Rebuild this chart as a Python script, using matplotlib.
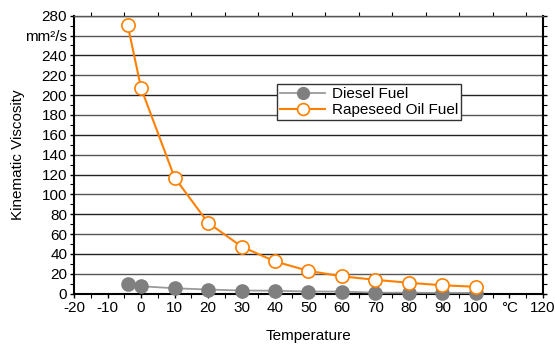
import matplotlib
matplotlib.use("Agg")
import matplotlib.pyplot as plt
from matplotlib.ticker import MultipleLocator

plt.rcParams['font.family'] = ['Liberation Sans', 'DejaVu Sans']

temps = [-4, 0, 10, 20, 30, 40, 50, 60, 70, 80, 90, 100]
diesel = [9.8, 7.5, 5.5, 4.2, 3.2, 3.0, 2.2, 2.2, 1.0, 1.0, 0.8, 0.8]
rapeseed = [270.5, 207, 117, 71.5, 47.5, 32.5, 23, 17.5, 14, 11, 8.5, 7]

xticks = [-20, -10, 0, 10, 20, 30, 40, 50, 60, 70, 80, 90, 100, 110, 120]
xlabels = ['-20', '-10', '0', '10', '20', '30', '40', '50', '60', '70', '80', '90', '100', '°C', '120']
yticks = list(range(0, 281, 20))
ylabels = [str(v) for v in yticks]
ylabels[yticks.index(260)] = 'mm²/s'

fig = plt.figure(figsize=(5.55, 3.52), dpi=100)
ax = fig.add_axes([0.1336, 0.1656, 0.8444, 0.7898])

for v in yticks[1:]:
    ax.axhline(v, color='#555555' if v % 40 else '#222222', lw=1.0, zorder=1)

ax.plot(temps, diesel, color='#9a9a9a', lw=1.3, marker='o', ms=9.5,
        mfc='#7f7f7f', mec='#7f7f7f', label='Diesel Fuel', zorder=3, clip_on=False)
ax.plot(temps, rapeseed, color='#ff8000', lw=1.5, marker='o', ms=9.5,
        mfc='white', mec='#ff8000', mew=1.2, label='Rapeseed Oil Fuel', zorder=4, clip_on=False)

ax.set_xlim(-20, 120)
ax.set_ylim(0, 280)
ax.set_xticks(xticks)
ax.set_xticklabels(xlabels, fontsize=11)
ax.set_yticks(yticks)
ax.set_yticklabels(ylabels, fontsize=11)
ax.xaxis.set_minor_locator(MultipleLocator(5))
ax.yaxis.set_minor_locator(MultipleLocator(10))
ax.tick_params(axis='both', which='major', direction='out', length=5, width=1, pad=2)
ax.tick_params(axis='both', which='minor', direction='in', length=3, width=0.8)
ax.tick_params(top=True, which='minor', direction='in')
ax.tick_params(right=True, which='both', direction='out', length=3)
ax.tick_params(top=False, which='major')

for s in ['left', 'bottom', 'right']:
    ax.spines[s].set_linewidth(1.5)
ax.spines['top'].set_linewidth(1.0)
ax.spines['top'].set_color('#555555')

ax.set_xlabel('Temperature', fontsize=11, labelpad=10)
ax.set_ylabel('Kinematic Viscosity', fontsize=11, labelpad=0)

leg = ax.legend(loc='upper left', bbox_to_anchor=(0.432, 0.755), fontsize=11,
                frameon=True, fancybox=False, edgecolor='#333333', framealpha=1,
                handlelength=3.0, borderpad=0.2, labelspacing=0.15, handletextpad=0.4,
                borderaxespad=0)
leg.get_frame().set_linewidth(1.0)
for h in leg.legend_handles:
    h.set_markersize(8.5)

fig.savefig('out.png', dpi=100)
